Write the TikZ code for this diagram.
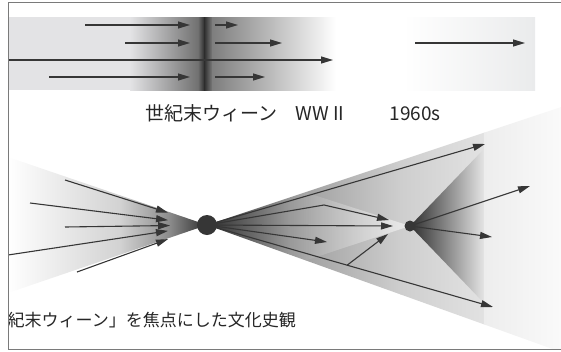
\documentclass[tikz,border=0pt]{standalone}
\usepackage{fontspec}
\setmainfont{Noto Sans CJK JP}
\usetikzlibrary{arrows.meta,calc,fadings}
\definecolor{ink}{HTML}{363636}
\definecolor{framec}{HTML}{7A7A7A}
\definecolor{bandg}{HTML}{E3E3E5}
\definecolor{bandmid}{HTML}{707070}
\definecolor{banddark}{HTML}{2C2C2C}
\definecolor{bandr}{HTML}{7E7E7E}
\definecolor{bandlite}{HTML}{EAEBEC}
\definecolor{wa}{HTML}{2E2E2E}
\definecolor{wb}{HTML}{9A9A9A}
\definecolor{wc}{HTML}{CECECE}
\definecolor{wd}{HTML}{E2E2E2}
\definecolor{we}{HTML}{EDEDED}
\definecolor{wf}{HTML}{FAFAFA}
\definecolor{la}{HTML}{D2D2D2}
\definecolor{lb}{HTML}{8A8A8A}
\tikzfading[name=rampin, left color=transparent!100, right color=transparent!0]
\begin{document}
\begin{tikzpicture}[x=1pt,y=-1pt,
  arr/.style={draw=ink, line width=1.1pt, -{Triangle[length=12pt,width=7pt]}},
  dot/.style={circle, fill=ink, inner sep=0pt},
  lab/.style={font=\fontsize{19}{22}\selectfont, text=black!85, inner sep=0pt, anchor=base},
  blab/.style={font=\fontsize{17}{20}\selectfont, text=black!85, inner sep=0pt, anchor=base east}]
\useasboundingbox (0,0) rectangle (561,351);
\begin{scope}
\clip (8,2) rectangle (561,349);
% top band
\fill[bandg] (8,17) rectangle (130.5,90);
\shade[left color=bandg, right color=bandmid] (130,17) rectangle (198.5,90);
\shade[left color=bandmid, right color=banddark] (198,17) rectangle (204.5,90);
\shade[left color=banddark, right color=bandr] (204,17) rectangle (212.5,90);
\shade[left color=bandr, right color=white] (212,17) rectangle (336,90);
\shade[left color=white, right color=bandlite] (403,17) rectangle (535,90);
% top arrows
\coordinate (a1s) at (85,25);  \coordinate (a1e) at (190,25);
\coordinate (a2s) at (215,25); \coordinate (a2e) at (238,25);
\coordinate (b1s) at (125,43); \coordinate (b1e) at (190,43);
\coordinate (b2s) at (215,43); \coordinate (b2e) at (282,43);
\coordinate (cs) at (8,60);    \coordinate (ce) at (333,60);
\coordinate (d1s) at (49,77);  \coordinate (d1e) at (190,77);
\coordinate (d2s) at (215,77); \coordinate (d2e) at (265,77);
\coordinate (es) at (415,43);  \coordinate (ee) at (525,43);
\draw[arr] (a1s) -- (a1e);
\draw[arr] (a2s) -- (a2e);
\draw[arr] (b1s) -- (b1e);
\draw[arr] (b2s) -- (b2e);
\draw[arr] (cs) -- (ce);
\draw[arr] (d1s) -- (d1e);
\draw[arr] (d2s) -- (d2e);
\draw[arr] (es) -- (ee);
% labels
\node[lab] (l1) at (211.5,120) {世紀末ウィーン};
\node[lab] (l2) at (320,120) {WW II};
\node[lab] (l3) at (415,120) {1960s};
\node[blab] (l4) at (296,326) {「世紀末ウィーン」を焦点にした文化史観};
% big right wedge
\begin{scope}
\clip (207,225) -- (561,107) -- (561,352) -- cycle;
\shade[left color=wa, right color=wb] (207,90) rectangle (290.5,360);
\shade[left color=wb, right color=wc] (290,90) rectangle (400.5,360);
\shade[left color=wc, right color=wd] (400,90) rectangle (484.5,360);
\shade[left color=we, right color=wf] (484,90) rectangle (561,360);
\end{scope}
% left wedge
\begin{scope}
\clip (8,157) -- (207,225) -- (8,293) -- cycle;
\shade[left color=white, right color=la] (8,150) rectangle (120.5,300);
\shade[left color=la, right color=lb] (120,150) rectangle (170.5,300);
\shade[left color=lb, right color=wa] (170,150) rectangle (207,300);
\end{scope}
% inner wedges at second dot
\fill[white, fill opacity=0.55, path fading=rampin] (292,188) -- (410,226) -- (292,265) -- cycle;
\shade[left color=wa, right color=wd] (410,226) -- (483,150) -- (483,302) -- cycle;
% dots
\node[dot, minimum size=20pt] (n1) at (207,225) {};
\node[dot, minimum size=11pt] (n2) at (410,226) {};
% left fan
\coordinate (f1) at (65,180);
\coordinate (f2) at (30,203);
\coordinate (f3) at (65,227);
\coordinate (f4) at (8,255);
\coordinate (f5) at (77,272);
\draw[arr] (f1) -- ($(f1)!0.725!(n1.center)$);
\draw[arr] (f2) -- ($(f2)!0.78!(n1.center)$);
\draw[arr] (f3) -- ($(f3)!0.74!(n1.center)$);
\draw[arr] (f4) -- ($(f4)!0.804!(n1.center)$);
\draw[arr] (f5) -- ($(f5)!0.70!(n1.center)$);
% right fan
\coordinate (ta) at (485,144);
\coordinate (bb) at (324,205);
\coordinate (tb) at (389,220);
\coordinate (tc) at (393,226);
\coordinate (td) at (327,242);
\coordinate (te) at (493,307);
\coordinate (br) at ($(n1.center)!0.49!(te)$);
\coordinate (tf) at (388,234);
\coordinate (tg) at (530,186);
\coordinate (th) at (492,237);
\draw[arr] (n1) -- (ta);
\draw[arr] (n1) -- (bb) -- (tb);
\draw[arr] (n1) -- (tc);
\draw[arr] (n1) -- (td);
\draw[arr] (n1) -- (te);
\draw[arr] (br) -- (tf);
\draw[arr] (n2) -- (tg);
\draw[arr] (n2) -- (th);
\end{scope}
% frame
\draw[framec, line width=1pt] (562,2) -- (8,2) -- (8,349) -- (562,349);
\end{tikzpicture}
\end{document}
